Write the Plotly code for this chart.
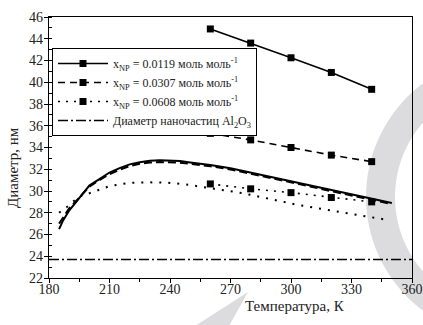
import numpy as np
import plotly.graph_objects as go

# ---------------- data ----------------
T_exp = [260, 280, 300, 320, 340]
D_exp_1 = [44.9, 43.6, 42.25, 40.9, 39.35]
D_exp_2 = [35.3, 34.7, 34.0, 33.3, 32.7]
D_exp_3 = [30.65, 30.2, 29.85, 29.4, 29.0]

T_model_1 = [185, 187, 190, 193, 196, 200, 205, 210, 215, 220, 225, 230, 235, 240,
             245, 250, 260, 270, 280, 290, 300, 310, 320, 330, 340, 350]
D_model_1 = [26.5, 27.3, 28.2, 28.9, 29.6, 30.5, 31.1, 31.7, 32.1, 32.45, 32.65, 32.78,
             32.82, 32.8, 32.75, 32.62, 32.4, 32.1, 31.7, 31.3, 30.9, 30.5, 30.05,
             29.65, 29.25, 28.9]

T_model_2 = T_model_1
D_model_2 = [27.0, 27.6, 28.4, 29.0, 29.6, 30.4, 31.0, 31.55, 31.95, 32.3, 32.5, 32.62,
             32.66, 32.65, 32.6, 32.5, 32.28, 31.98, 31.6, 31.2, 30.8, 30.4, 29.98,
             29.58, 29.18, 28.8]

T_model_3 = [185, 189, 195, 201, 210, 220, 229, 239, 248, 258, 262, 271, 276, 290,
             304, 320, 335, 346]
D_model_3 = [28.0, 28.55, 29.5, 29.85, 30.45, 30.75, 30.8, 30.76, 30.6, 30.35, 30.2,
             29.95, 29.8, 29.25, 28.7, 28.2, 27.75, 27.4]

T_np = [180, 360]
D_np = [23.7, 23.7]

labels = [
    "x<sub>NP</sub> = 0.0119 моль моль<sup>-1</sup>",
    "x<sub>NP</sub> = 0.0307 моль моль<sup>-1</sup>",
    "x<sub>NP</sub> = 0.0608 моль моль<sup>-1</sup>",
    "Диаметр наночастиц Al<sub>2</sub>O<sub>3</sub>",
]
x_title = "Температура, К"
y_title = "Диаметр, нм"

# ---------------- figure ----------------
FONT = "Liberation Serif"
W, H = 423, 325
L, R, T, B = 49, 11, 17, 47

dashes = ["solid", "7px,5px", "2px,6px"]
fig = go.Figure()

for tm, dm, dash in [(T_model_1, D_model_1, "solid"),
                     (T_model_2, D_model_2, "8px,4px"),
                     (T_model_3, D_model_3, "2px,7px")]:
    fig.add_trace(go.Scatter(x=tm, y=dm, mode="lines", showlegend=False,
                             line=dict(color="black", width=2, dash=dash)))

for dexp, dash, name in [(D_exp_1, dashes[0], labels[0]),
                         (D_exp_2, dashes[1], labels[1]),
                         (D_exp_3, dashes[2], labels[2])]:
    fig.add_trace(go.Scatter(x=T_exp, y=dexp, mode="lines+markers", name=name,
                             line=dict(color="black", width=1.6, dash=dash),
                             marker=dict(symbol="square", size=7, color="black")))

fig.add_trace(go.Scatter(x=T_np, y=D_np, mode="lines", name=labels[3],
                         line=dict(color="black", width=1.6, dash="10px,3px,2px,3px")))

# watermark (decoration), pixel -> paper helpers
pw, ph = W - L - R, H - T - B
def px(x):
    return (x - L) / pw
def py(y):
    return (H - B - y) / ph

ang = np.linspace(0, 2 * np.pi, 121)
cx, cy, ro, ri = 508, 197, 142, 113
outer = " L ".join(f"{px(cx + ro*np.cos(a)):.4f},{py(cy + ro*np.sin(a)):.4f}" for a in ang)
inner = " L ".join(f"{px(cx + ri*np.cos(a)):.4f},{py(cy + ri*np.sin(a)):.4f}" for a in ang[::-1])
ring = f"M {outer} Z M {inner} Z"
tri = f"M {px(195):.4f},{py(326):.4f} L {px(248):.4f},{py(292):.4f} L {px(229):.4f},{py(326):.4f} Z"

fig.add_shape(type="path", path=ring, xref="paper", yref="paper", fillcolor="#dcdcde",
              line=dict(width=0), layer="below", fillrule="evenodd")
fig.add_shape(type="path", path=tri, xref="paper", yref="paper", fillcolor="#dcdcde",
              line=dict(width=0), layer="below")

axis_common = dict(showline=True, linecolor="black", linewidth=1.2, mirror=True,
                   ticks="outside", ticklen=4, tickwidth=1, tickcolor="black",
                   showgrid=False, zeroline=False, automargin=False,
                   tickfont=dict(family=FONT, size=14, color="#222"))

fig.update_xaxes(range=[180, 360], dtick=30, tick0=180, ticklabelstandoff=-6,
                 minor=dict(dtick=15, ticks="outside", ticklen=2.5, tickcolor="black"),
                 **axis_common)
fig.update_yaxes(range=[22, 46], dtick=2, tick0=22, ticklabelstandoff=-2,
                 minor=dict(dtick=1, ticks="inside", ticklen=3, tickcolor="black"),
                 **axis_common)

fig.add_annotation(text=x_title, xref="paper", yref="paper", x=px(295), y=py(306),
                   xanchor="center", yanchor="middle",
                   showarrow=False, font=dict(family=FONT, size=15, color="#222"))
fig.add_annotation(text=y_title, xref="paper", yref="paper", x=px(13), y=py(168),
                   xanchor="center", yanchor="middle",
                   showarrow=False, textangle=-90,
                   font=dict(family=FONT, size=15, color="#222"))

fig.update_layout(
    width=W, height=H, margin=dict(l=L, r=R, t=T, b=B, autoexpand=False),
    paper_bgcolor="white", plot_bgcolor="rgba(0,0,0,0)",
    font=dict(family=FONT, color="#222"),
    legend=dict(x=px(52), y=py(48), xanchor="left", yanchor="top",
                bgcolor="white", bordercolor="black", borderwidth=1,
                font=dict(family=FONT, size=12, color="#222"),
                tracegroupgap=0, itemwidth=50),
)

fig.write_html("out.html", config={"displayModeBar": False},
               post_script="document.body.style.margin='0px';")
